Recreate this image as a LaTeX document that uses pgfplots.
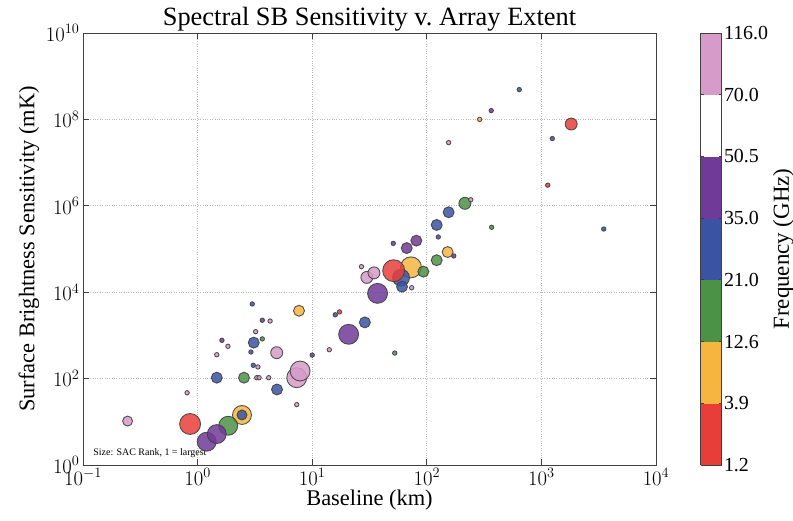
\documentclass[border=0pt]{standalone}
\usepackage[no-math]{fontspec}
\setmainfont{Liberation Serif}
\usepackage{pgfplots}
\usepackage{pgfplotstable}
\pgfplotsset{compat=1.18}
\definecolor{cRed}{RGB}{232,62,58}
\definecolor{cOrange}{RGB}{245,181,63}
\definecolor{cGreen}{RGB}{76,146,70}
\definecolor{cBlue}{RGB}{58,84,163}
\definecolor{cPurple}{RGB}{112,58,152}
\definecolor{cPink}{RGB}{214,155,201}

% x = baseline (km), y = SB sensitivity (mK), r = marker radius
\pgfplotstableread{
x y r
2.44 14.4 9.5
7.67 3720 5.5
72.8 37600 10.5
152 85000 5.5
289 1.0e8 2.2
}\orangepts
\pgfplotstableread{
x y r
1.85 8.1 9.5
2.54 105 5.5
93.3 29900 5.5
122 55000 5.5
215 1.14e6 6
3.67 830 2.2
368 318000 2.2
52.5 390 2.2
}\greenpts
\pgfplotstableread{
x y r
1.2 3.46 9.5
1.47 5.2 9.5
20.8 1060 10
37.2 9400 10
66.8 105000 5.5
81 156000 5.5
10 350 2.2
3.67 2240 2.2
1.63 770 2.2
51 135000 2.2
172 69000 2.2
365 1.6e8 2.2
}\purplepts
\pgfplotstableread{
x y r
59.6 21700 8.5
2.44 14.4 5
1.47 105 5.5
4.93 56 5.5
3.09 680 5.5
28.8 2000 5.5
60.8 13400 5.5
122 360000 5.5
155 710000 5.5
15.9 3000 2.2
3.0 5340 2.2
2.92 413 2.2
3.06 203 2.2
126 190000 2.2
641 4.9e8 2.2
1245 3.6e7 2.2
3500 290000 2.2
}\bluepts
\pgfplotstableread{
x y r
7.33 105 10
7.84 150 10
0.245 10.4 5
4.9 398 6
30 22000 6
34.6 28000 6
0.81 47 2.2
3.28 105 2.2
3.44 105 2.2
4.17 105 2.2
7.33 25 2.2
14.1 466 2.2
4.29 2150 2.2
3.21 1220 2.2
3.36 186 2.2
1.84 560 2.2
1.47 357 2.2
26.9 39000 2.2
73.8 12700 2.2
242 1.38e6 2.2
155 2.9e7 2.2
}\pinkpts
\pgfplotstableread{
x y r
0.86 8.9 10.5
51.4 31500 11
1820 7.8e7 6
17.3 3500 2.2
1135 3.0e6 2.2
}\redpts

\pgfplotsset{
  bub/.style={only marks, scatter, mark=*, point meta=explicit,
    scatter/use mapped color={draw=black!75, fill=#1, fill opacity=0.85, draw opacity=0.9, line width=0.9bp},
    visualization depends on={\thisrow{r} \as \rad},
    scatter/@pre marker code/.append style={/tikz/mark size=\rad}},
}

\begin{document}
\begin{tikzpicture}
\begin{axis}[
  name=main,
  scale only axis, width=573bp, height=432bp,
  xmode=log, ymode=log,
  xmin=0.1, xmax=1e4, ymin=1, ymax=1e10,
  xtick={0.1,1,10,100,1000,10000},
  ytick={1,1e2,1e4,1e6,1e8,1e10},
  xminorticks=false, yminorticks=false,
  tick align=inside, major tick length=6bp,
  grid=major, major grid style={dotted, black!28, line width=0.8bp},
  axis line style={black!75, line width=0.9bp},
  tick style={black!75, line width=0.8bp},
  title={Spectral SB Sensitivity v.\ Array Extent},
  title style={font=\fontsize{26.5}{30}\selectfont, yshift=-8bp},
  xlabel={Baseline (km)}, ylabel={Surface Brightness Sensitivity (mK)},
  label style={font=\fontsize{22.5}{26}\selectfont},
  xlabel style={yshift=2bp},
  tick label style={font=\fontsize{22}{24}\selectfont},
  colormap={freq}{color(0cm)=(cRed) color(1cm)=(cOrange) color(2cm)=(cGreen) color(3cm)=(cBlue) color(4cm)=(cPurple) color(5cm)=(white) color(6cm)=(cPink) color(7cm)=(cPink)},
  colormap access=piecewise constant,
  point meta min=0, point meta max=7,
  colorbar,
  colorbar style={
    width=21bp,
    at={(parent axis.north east)}, anchor=north west, xshift=36bp,
    ytick={0,1,2,3,4,5,6,7},
    yticklabels={1.2,3.9,12.6,21.0,35.0,50.5,70.0,116.0},
    yticklabel style={font=\fontsize{20}{22}\selectfont, xshift=-1bp},
    major tick length=3bp,
    axis line style={black!75, line width=0.9bp},
    ylabel={Frequency (GHz)},
    ylabel style={font=\fontsize{23}{26}\selectfont, yshift=2bp},
  },
]
\addplot[bub=cOrange] table[x=x, y=y, meta=r] {\orangepts};
\addplot[bub=cGreen] table[x=x, y=y, meta=r] {\greenpts};
\addplot[bub=cPurple] table[x=x, y=y, meta=r] {\purplepts};
\addplot[bub=cBlue] table[x=x, y=y, meta=r] {\bluepts};
\addplot[bub=cPink] table[x=x, y=y, meta=r] {\pinkpts};
\addplot[bub=cRed] table[x=x, y=y, meta=r] {\redpts};
\node[anchor=south west, font=\fontsize{10}{12}\selectfont] at (rel axis cs:0.012,0.01) {Size: SAC Rank, 1 = largest};
\end{axis}
\pgfresetboundingbox
\path[use as bounding box] ([xshift=-83bp, yshift=-56bp]main.south west) rectangle ([xshift=137bp, yshift=33bp]main.north east);
\end{tikzpicture}
\end{document}
